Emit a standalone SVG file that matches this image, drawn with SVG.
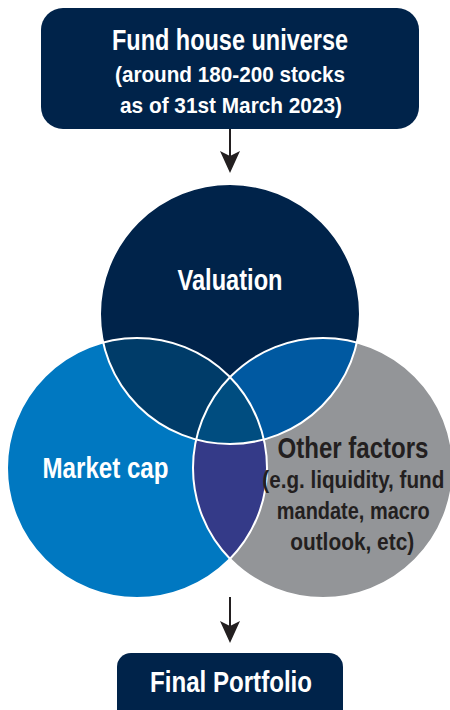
<svg xmlns="http://www.w3.org/2000/svg" width="450" height="710" viewBox="0 0 450 710">
  <style>
    .box { fill: #00234a; }
    .lbl { font-family: "Liberation Sans", Arial, sans-serif; font-weight: bold; text-anchor: middle; }
    .w { fill: #ffffff; }
    .d { fill: #231f20; }
    .conn { stroke: #231f20; stroke-width: 2; fill: none; }
    .edge { fill: none; stroke: #ffffff; stroke-width: 2; }
  </style>
  <defs>
    <marker id="ah" markerUnits="userSpaceOnUse" markerWidth="22" markerHeight="20" viewBox="0 0 22 20" refX="14" refY="10" orient="auto">
      <path d="M0,0 L5,10 L0,20 L22,10 Z" fill="#231f20"/>
    </marker>
    <circle id="cV" cx="230" cy="314" r="130"/>
    <circle id="cM" cx="137" cy="468" r="130"/>
    <circle id="cO" cx="323" cy="468" r="130"/>
    <clipPath id="clipV"><use href="#cV"/></clipPath>
    <clipPath id="clipM"><use href="#cM"/></clipPath>
    <clipPath id="clipO"><use href="#cO"/></clipPath>
  </defs>

  <rect width="450" height="710" fill="#ffffff"/>

  <g id="connectors">
    <line class="conn" x1="230" y1="129" x2="230" y2="165" marker-end="url(#ah)"/>
    <line class="conn" x1="230" y1="597" x2="230" y2="635" marker-end="url(#ah)"/>
  </g>

  <g id="fund-house-universe">
    <rect class="box" x="41" y="8" width="378" height="121" rx="22"/>
    <text class="lbl w" x="230" y="50" font-size="30" textLength="236" lengthAdjust="spacingAndGlyphs">Fund house universe</text>
    <text class="lbl w" x="230" y="82" font-size="22" textLength="230" lengthAdjust="spacingAndGlyphs">(around 180-200 stocks</text>
    <text class="lbl w" x="231" y="113" font-size="22" textLength="222" lengthAdjust="spacingAndGlyphs">as of 31st March 2023)</text>
  </g>

  <g id="valuation">
    <use href="#cV" fill="#00234a"/>
  </g>
  <g id="market-cap">
    <use href="#cM" fill="#0078c1"/>
  </g>
  <g id="other-factors">
    <use href="#cO" fill="#939598"/>
  </g>

  <g id="overlaps">
    <g clip-path="url(#clipV)"><use href="#cM" fill="#003c69"/></g>
    <g clip-path="url(#clipV)"><use href="#cO" fill="#0059a1"/></g>
    <g clip-path="url(#clipM)"><use href="#cO" fill="#343a88"/></g>
    <g clip-path="url(#clipV)"><g clip-path="url(#clipM)"><use href="#cO" fill="#004d80"/></g></g>
  </g>

  <g id="outlines">
    <use href="#cV" class="edge"/>
    <use href="#cM" class="edge"/>
    <use href="#cO" class="edge"/>
  </g>

  <g id="labels">
    <text class="lbl w" x="230" y="290" font-size="30" textLength="105" lengthAdjust="spacingAndGlyphs">Valuation</text>
    <text class="lbl w" x="105.5" y="478" font-size="30" textLength="126" lengthAdjust="spacingAndGlyphs">Market cap</text>
    <text class="lbl d" x="353" y="458" font-size="30" textLength="151" lengthAdjust="spacingAndGlyphs">Other factors</text>
    <text class="lbl d" x="353.3" y="488" font-size="23" textLength="182" lengthAdjust="spacingAndGlyphs">(e.g. liquidity, fund</text>
    <text class="lbl d" x="353.3" y="519" font-size="23" textLength="153" lengthAdjust="spacingAndGlyphs">mandate, macro</text>
    <text class="lbl d" x="352.2" y="550" font-size="23" textLength="124" lengthAdjust="spacingAndGlyphs">outlook, etc)</text>
  </g>

  <g id="final-portfolio">
    <rect class="box" x="117" y="653" width="226" height="75" rx="14"/>
    <text class="lbl w" x="231" y="692" font-size="29" textLength="162" lengthAdjust="spacingAndGlyphs">Final Portfolio</text>
  </g>
</svg>
